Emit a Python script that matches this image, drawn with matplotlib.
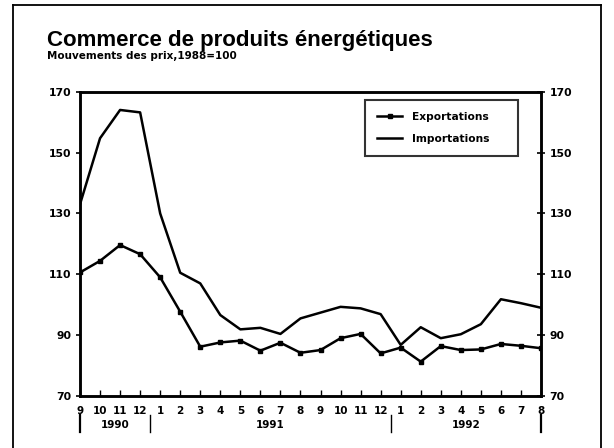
import matplotlib
matplotlib.use("Agg")
import matplotlib.pyplot as plt
from matplotlib.lines import Line2D

plt.rcParams['font.family'] = ['Liberation Sans', 'DejaVu Sans']
plt.rcParams['font.weight'] = 'bold'
SMALL = ['DejaVu Sans']

# ---- data ----
months = ["9", "10", "11", "12", "1", "2", "3", "4", "5", "6", "7", "8",
          "9", "10", "11", "12", "1", "2", "3", "4", "5", "6", "7", "8"]
years = ["1990", "1991", "1992"]
exportations = [110.6, 114.4, 119.6, 116.6, 109.0, 97.7, 86.2, 87.6, 88.2, 84.9, 87.5, 84.2,
                85.1, 89.0, 90.4, 84.0, 85.9, 81.3, 86.4, 85.1, 85.3, 87.1, 86.5, 85.7]
importations = [133.0, 154.7, 164.0, 163.2, 130.0, 110.5, 107.0, 96.6, 91.9, 92.4, 90.4, 95.5,
                97.4, 99.3, 98.8, 96.9, 86.8, 92.6, 89.0, 90.3, 93.6, 101.8, 100.5, 99.0]
yticks = [70, 90, 110, 130, 150, 170]

W, H = 614, 448
fig = plt.figure(figsize=(W / 100, H / 100), dpi=100)

def fx(px):
    return px / W

def fy(py):
    return 1 - py / H

# outer frame (open at the bottom)
for xs, ys in [([13, 13], [5, 460]), ([13, 601], [5, 5]), ([601, 601], [5, 460])]:
    fig.add_artist(Line2D([fx(x) for x in xs], [fy(y) for y in ys], color='black', lw=1.3))

# titles
fig.text(fx(47), fy(46), "Commerce de produits énergétiques", fontsize=16, fontweight='bold',
         va='baseline', ha='left')
fig.text(fx(47), fy(59), "Mouvements des prix,1988=100", fontsize=7.5, fontweight='bold',
         family=SMALL, va='baseline', ha='left')

# axes
x0, x1, ytop, ybot = 80, 541, 91.7, 396
ax = fig.add_axes([fx(x0), fy(ybot), (x1 - x0) / W, (ybot - ytop) / H])
x = list(range(len(months)))
ax.plot(x, exportations, color='black', lw=1.8, marker='s', markersize=3.5, label='Exportations')
ax.plot(x, importations, color='black', lw=1.8, label='Importations')
ax.set_xlim(0, len(months) - 1)
ax.set_ylim(70, 170)

for s in ax.spines.values():
    s.set_linewidth(1.8)

ax.set_xticks(x)
ax.set_xticklabels(months, fontsize=7.5, fontweight='bold', family=SMALL)
ax.tick_params(axis='x', direction='in', length=4, width=1, pad=7)
ax.set_yticks(yticks)
ax.set_yticklabels([str(v) for v in yticks], fontsize=7.8, fontweight='bold', family=SMALL)
ax.tick_params(axis='y', direction='out', length=3, width=1.2, pad=3)

ax2 = ax.twinx()
ax2.set_ylim(70, 170)
ax2.set_yticks(yticks)
ax2.set_yticklabels([str(v) for v in yticks], fontsize=7.8, fontweight='bold', family=SMALL)
ax2.tick_params(axis='y', direction='inout', length=6, width=1.2, pad=3)
for s in ax2.spines.values():
    s.set_linewidth(1.8)

# year separators and labels
trans = ax.get_xaxis_transform()
seps = [0, 3.5, 15.5, 23]
widths = [1.6, 1.0, 1.0, 1.6]
ah = ybot - ytop
yb0 = (ybot - 415) / ah
yb1 = (ybot - 432) / ah
for sx, lw in zip(seps, widths):
    ax.plot([sx, sx], [yb0, yb1], transform=trans, color='black', lw=lw, clip_on=False)
for i, yr in enumerate(years):
    cx = (seps[i] + seps[i + 1]) / 2
    ax.text(cx, (ybot - 425) / ah, yr, transform=trans, ha='center', va='center',
            fontsize=7.5, fontweight='bold', family=SMALL)

lx0 = (365 - x0) / (x1 - x0)
lw_ = (518 - 365) / (x1 - x0)
ly1 = (ybot - 100) / ah
lh = (157 - 100) / ah
leg = ax.legend(loc='upper left', bbox_to_anchor=(lx0, ly1 - lh, lw_, lh), mode='expand',
                frameon=True, fancybox=False, prop={'family': SMALL, 'weight': 'bold', 'size': 7.7},
                handlelength=2.4, borderpad=1.1, labelspacing=1.15, handletextpad=0.9,
                borderaxespad=0)
leg.get_frame().set_edgecolor('black')
leg.get_frame().set_linewidth(1.5)

fig.savefig("out.png", dpi=100)
